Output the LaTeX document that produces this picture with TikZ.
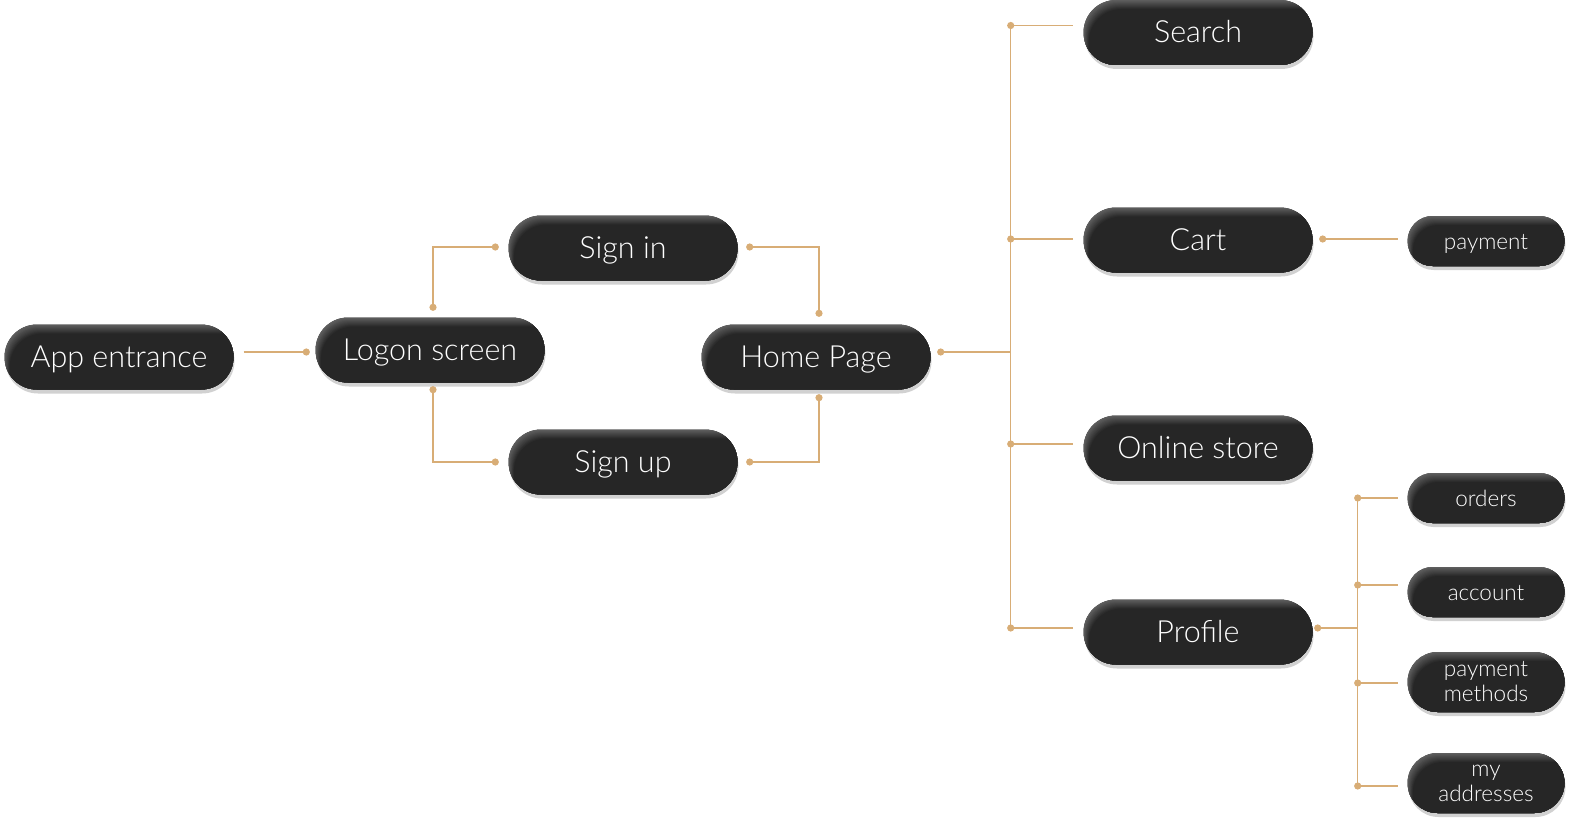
\documentclass[tikz,border=0pt]{standalone}
\usepackage{fontspec}
\setmainfont{Lato}[UprightFont={* Light}]
\usetikzlibrary{shadows,calc}
\definecolor{pilldark}{HTML}{262626}
\definecolor{pilllight}{HTML}{5E5E5E}
\definecolor{linkcol}{HTML}{D8AD76}
\tikzset{
 pillbase/.style={rectangle, rounded corners=#1, fill=pilldark, text=white, align=center, inner sep=0pt,
   drop shadow={shadow xshift=1pt, shadow yshift=-4pt, opacity=0.18, fill=black},
   path picture={
     \fill[pilllight] (path picture bounding box.south west) rectangle (path picture bounding box.north east);
     \foreach \k in {1,...,9}{
       \pgfmathsetmacro\pp{\k*11.1}
       \fill[pilldark!\pp!pilllight, rounded corners=#1]
         ($(path picture bounding box.south west)+(\k*0.6pt,-30pt)$) rectangle ($(path picture bounding box.north east)+(30pt,-\k*1.0pt)$);
     }
   }},
 bigpill/.style={pillbase=32.5pt, minimum width=229pt, minimum height=65pt, font=\fontsize{30.5}{32}\selectfont,
   text height=28pt, text depth=8pt},
 smallpill/.style={pillbase=25pt, minimum width=157pt, minimum height=50pt, font=\fontsize{22.5}{24}\selectfont,
   text height=22pt, text depth=6pt},
 tallpill/.style={pillbase=30pt, minimum width=157pt, minimum height=60pt, font=\fontsize{22.5}{25}\selectfont},
 link/.style={draw=linkcol, line width=1.5pt},
}
\newcommand{\jdot}[1]{\fill[linkcol] (#1) circle (3.6pt);}
\begin{document}
\begin{tikzpicture}[x=1pt,y=-1pt]
\useasboundingbox (0,0) rectangle (1581,821);
% nodes
\node[bigpill] (app) at (119,357) {App entrance};
\node[bigpill] (logon) at (430,350) {Logon screen};
\node[bigpill] (signin) at (623,248) {Sign in};
\node[bigpill] (signup) at (623,462) {Sign up};
\node[bigpill] (home) at (816,357) {Home Page};
\node[bigpill] (search) at (1198,32.5) {Search};
\node[bigpill] (cart) at (1198,240) {Cart};
\node[bigpill] (store) at (1198,448) {Online store};
\node[bigpill] (profile) at (1198,632) {Profile};
\node[smallpill] (payment) at (1486,241) {payment};
\node[smallpill] (orders) at (1486,498) {orders};
\node[smallpill] (account) at (1486,592) {account};
\node[tallpill] (pmeth) at (1486,682) {payment\\methods};
\node[tallpill] (addr) at (1486,783) {my\\addresses};
% app -> logon
\draw[link] ($(app.east)+(10,-5)$) -- ($(logon.west)+(-9,2)$) coordinate (lgw);
\jdot{lgw}
% logon -> sign in / sign up
\draw[link] ($(logon.north)+(3,-10)$) coordinate (lt) |- ($(signin.west)+(-13,-1)$) coordinate (sil);
\draw[link] ($(logon.south)+(3,7)$) coordinate (lb) |- ($(signup.west)+(-13,0)$) coordinate (sul);
\jdot{lt}\jdot{sil}\jdot{lb}\jdot{sul}
% sign in / sign up -> home
\draw[link] ($(signin.east)+(12,-1)$) coordinate (sir) -| ($(home.north)+(3,-11)$) coordinate (hn);
\draw[link] ($(signup.east)+(12,0)$) coordinate (sur) -| ($(home.south)+(3,8)$) coordinate (hs);
\jdot{sir}\jdot{sur}\jdot{hn}\jdot{hs}
% home -> main trunk
\coordinate (hr) at ($(home.east)+(10,-5)$);
\coordinate (t) at ($(home.east)+(80,-5)$);
\draw[link] (hr) -- (t);
\coordinate (ts) at ($(t |- search.west)+(0,-7)$);
\coordinate (tc) at ($(t |- cart.west)+(0,-1)$);
\coordinate (to) at ($(t |- store.west)+(0,-4)$);
\coordinate (tp) at ($(t |- profile.west)+(0,-4)$);
\draw[link] (ts) -- (tp);
\draw[link] (ts) -- ($(search.west)+(-10,-7)$);
\draw[link] (tc) -- ($(cart.west)+(-10,-1)$);
\draw[link] (to) -- ($(store.west)+(-10,-4)$);
\draw[link] (tp) -- ($(profile.west)+(-10,-4)$);
\jdot{hr}\jdot{ts}\jdot{tc}\jdot{to}\jdot{tp}
% cart -> payment
\draw[link] ($(cart.east)+(10,-1)$) coordinate (cr) -- ($(payment.west)+(-9,-2)$);
\jdot{cr}
% profile -> sub trunk
\coordinate (pr) at ($(profile.east)+(5,-4)$);
\coordinate (u) at ($(profile.east)+(45,-4)$);
\draw[link] (pr) -- (u);
\coordinate (uo) at ($(u |- orders.west)+(0,0)$);
\coordinate (ua) at ($(u |- account.west)+(0,-7)$);
\coordinate (um) at ($(u |- pmeth.west)+(0,1)$);
\coordinate (ud) at ($(u |- addr.west)+(0,3)$);
\draw[link] (uo) -- (ud);
\draw[link] (uo) -- ($(orders.west)+(-9,0)$);
\draw[link] (ua) -- ($(account.west)+(-9,-7)$);
\draw[link] (um) -- ($(pmeth.west)+(-9,1)$);
\draw[link] (ud) -- ($(addr.west)+(-9,3)$);
\jdot{pr}\jdot{uo}\jdot{ua}\jdot{um}\jdot{ud}
\end{tikzpicture}
\end{document}
